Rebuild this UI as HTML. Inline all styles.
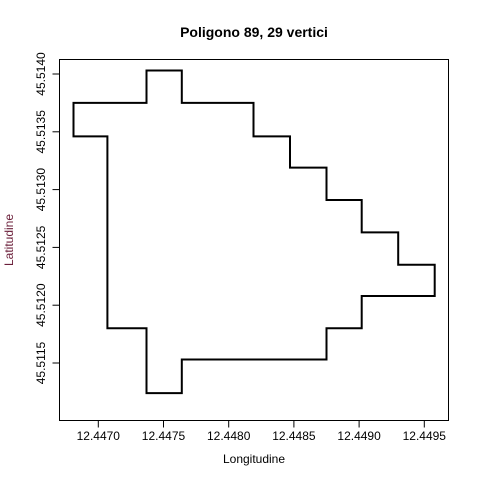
<!DOCTYPE html>
<html><head><meta charset="utf-8"><style>body{margin:0;background:#fff}svg{display:block}text{font-family:"Liberation Sans",sans-serif;font-size:12px}</style></head>
<body>
<svg id="chart" width="480" height="480" xmlns="http://www.w3.org/2000/svg">
<rect width="480" height="480" fill="#fff"/>
<text x="254" y="37" text-anchor="middle" font-weight="bold" style="font-size:14px">Poligono 89, 29 vertici</text>
<rect x="59.5" y="59.5" width="389" height="361" fill="none" stroke="#000"/>
<text x="254" y="463" text-anchor="middle">Longitudine</text>
<text transform="translate(13,240) rotate(-90)" text-anchor="middle" fill="#6b1f3a">Latitudine</text>
<g id="xt"></g><g id="yt"></g>
<polygon id="poly" fill="none" stroke="#000" stroke-width="2"/>
</svg>
<script>
const lon=[12.44681,12.44737,12.44737,12.44764,12.44764,12.44819,12.44819,12.44847,12.44847,12.44875,12.44875,12.44902,12.44902,12.44930,12.44930,12.44958,12.44958,12.44902,12.44902,12.44875,12.44875,12.44764,12.44764,12.44737,12.44737,12.44707,12.44707,12.44681];
const lat=[45.51375,45.51375,45.51403,45.51403,45.51375,45.51375,45.51346,45.51346,45.51319,45.51319,45.51291,45.51291,45.51263,45.51263,45.51235,45.51235,45.51208,45.51208,45.51180,45.51180,45.51153,45.51153,45.51124,45.51124,45.51180,45.51180,45.51346,45.51346];
const xTicks=[12.4470,12.4475,12.4480,12.4485,12.4490,12.4495];
const yTicks=[45.5115,45.5120,45.5125,45.5130,45.5135,45.5140];
const X=v=>98.3+(v-12.4470)/0.0005*65.2;
const Y=v=>74+(45.5140-v)/0.0005*57.8;
const NS="http://www.w3.org/2000/svg";
const poly=document.getElementById('poly');
poly.setAttribute('points',lon.map((v,i)=>X(v).toFixed(1)+','+Y(lat[i]).toFixed(1)).join(' '));
const xt=document.getElementById('xt'),yt=document.getElementById('yt');
xTicks.forEach(t=>{const x=X(t);
 const l=document.createElementNS(NS,'line');
 
 
 l.setAttribute('x1',x);l.setAttribute('x2',x);l.setAttribute('y1',420.5);l.setAttribute('y2',427.5);l.setAttribute('stroke','#000');xt.appendChild(l);
 const s=document.createElementNS(NS,'text');
 
 
 s.setAttribute('x',x);s.setAttribute('y',440);s.setAttribute('text-anchor','middle');s.textContent=t.toFixed(4);xt.appendChild(s);});
yTicks.forEach(t=>{const y=Y(t);
 const l=document.createElementNS(NS,'line');
 
 
 l.setAttribute('x1',52.5);l.setAttribute('x2',59.5);l.setAttribute('y1',y);l.setAttribute('y2',y);l.setAttribute('stroke','#000');yt.appendChild(l);
 const s=document.createElementNS(NS,'text');
 
 
 s.setAttribute('transform','translate(45,'+y+') rotate(-90)');s.setAttribute('text-anchor','middle');s.textContent=t.toFixed(4);yt.appendChild(s);});
</script>
</body></html>
